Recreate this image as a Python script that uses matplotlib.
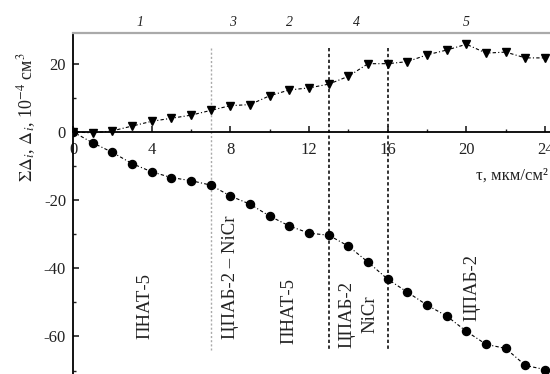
import matplotlib
matplotlib.use("Agg")
import matplotlib.pyplot as plt
from matplotlib.ticker import MultipleLocator

# data
t = list(range(25))
delta_sum = [0, -0.3, 0.3, 1.7, 3.1, 4.0, 4.9, 6.3, 7.7, 8.0, 10.6, 12.3, 12.9, 14.0,
             16.3, 20.0, 20.0, 20.6, 22.6, 24.0, 25.7, 23.1, 23.4, 21.7, 21.7]
delta_i = [0, -3.2, -6.0, -9.3, -11.7, -13.4, -14.3, -15.6, -18.8, -21.2, -24.7, -27.6,
           -29.7, -30.3, -33.5, -38.2, -43.2, -47.0, -50.8, -54.0, -58.5, -62.3, -63.5,
           -68.5, -69.7]
boundaries_grey = [7]
boundaries_dark = [13, 16]
region_nums = ["1", "3", "2", "4", "5"]
region_num_x = [3.4, 8.1, 11.0, 14.4, 20.0]
coat_labels = ["ПНАТ-5", "ЦПАБ-2 – NiCr", "ПНАТ-5", "ЦПАБ-2\nNiCr", "ЦПАБ-2"]
coat_x = [3.66, 8.0, 11.0, 14.5, 20.3]
coat_y = [-51, -42.5, -52.5, -53.6, -45.7]

plt.rcParams["font.family"] = ["Liberation Serif", "DejaVu Serif"]
plt.rcParams["mathtext.fontset"] = "stix"
INK = "#222222"

fig = plt.figure(figsize=(5.5, 3.74), dpi=100)
ax = fig.add_axes([73 / 550, 0.0, 1 - 73 / 550, 1 - 33 / 374])
ax.set_xlim(0, 24.25)
ax.set_ylim(-71, 29)

ls = (0, (3, 2, 1, 2))
ax.plot(t, delta_sum, color="black", lw=0.8, ls=ls, marker="v", ms=5.5, zorder=3)
ax.plot(t, delta_i, color="black", lw=0.8, ls=ls, marker="o", ms=5.8, zorder=3)

for xb in boundaries_grey:
    ax.plot([xb, xb], [24.6, -64], color="#aaaaaa", lw=1.0, ls=(0, (1.5, 1.5)), zorder=1)
for xb in boundaries_dark:
    ax.plot([xb, xb], [24.6, -64], color="#111111", lw=1.2, ls=(0, (2, 1.5)), zorder=1)

for lab, xn in zip(region_nums, region_num_x):
    ax.text(xn, 32, lab, ha="center", va="center", fontsize=10, style="italic",
            color=INK, clip_on=False)

for lab, xc, yc in zip(coat_labels, coat_x, coat_y):
    ax.text(xc, yc, lab, rotation=90, ha="center", va="center", fontsize=13.5,
            color=INK, multialignment="center", linespacing=1.45)

ax.text(24.15, -12.8, "τ, мкм/см²", ha="right", va="center", fontsize=12, color=INK)
fig.text(27 / 550, 1 - 117 / 374, r"$\Sigma\Delta_i$, $\Delta_i$, 10$^{-4}$ см$^3$",
         rotation=90, ha="center", va="center", fontsize=13, color=INK)

# spines
ax.spines["bottom"].set_position(("data", 0))
ax.spines["bottom"].set_linewidth(1.3)
ax.spines["left"].set_linewidth(1.3)
ax.spines["right"].set_visible(False)
ax.spines["top"].set_color("#aaaaaa")
ax.spines["top"].set_linewidth(1.6)

ax.xaxis.set_major_locator(MultipleLocator(4))
ax.xaxis.set_minor_locator(MultipleLocator(2))
ax.yaxis.set_major_locator(MultipleLocator(20))
ax.yaxis.set_minor_locator(MultipleLocator(10))
ax.tick_params(which="both", direction="in", colors=INK, labelsize=12)
ax.tick_params(which="major", length=4, width=1.2)
ax.tick_params(which="minor", length=2, width=1.0)
ax.tick_params(axis="x", pad=7)
ax.tick_params(axis="y", pad=5)
ax.set_xticks([0, 4, 8, 12, 16, 20, 24])
ax.set_xticklabels(["0", "4", "8", "12", "16", "20", "24"])
ax.set_yticks([20, 0, -20, -40, -60])
ax.set_yticklabels(["20", "0", "-20", "-40", "-60"])

plt.savefig("out.png", dpi=100)
plt.close()
